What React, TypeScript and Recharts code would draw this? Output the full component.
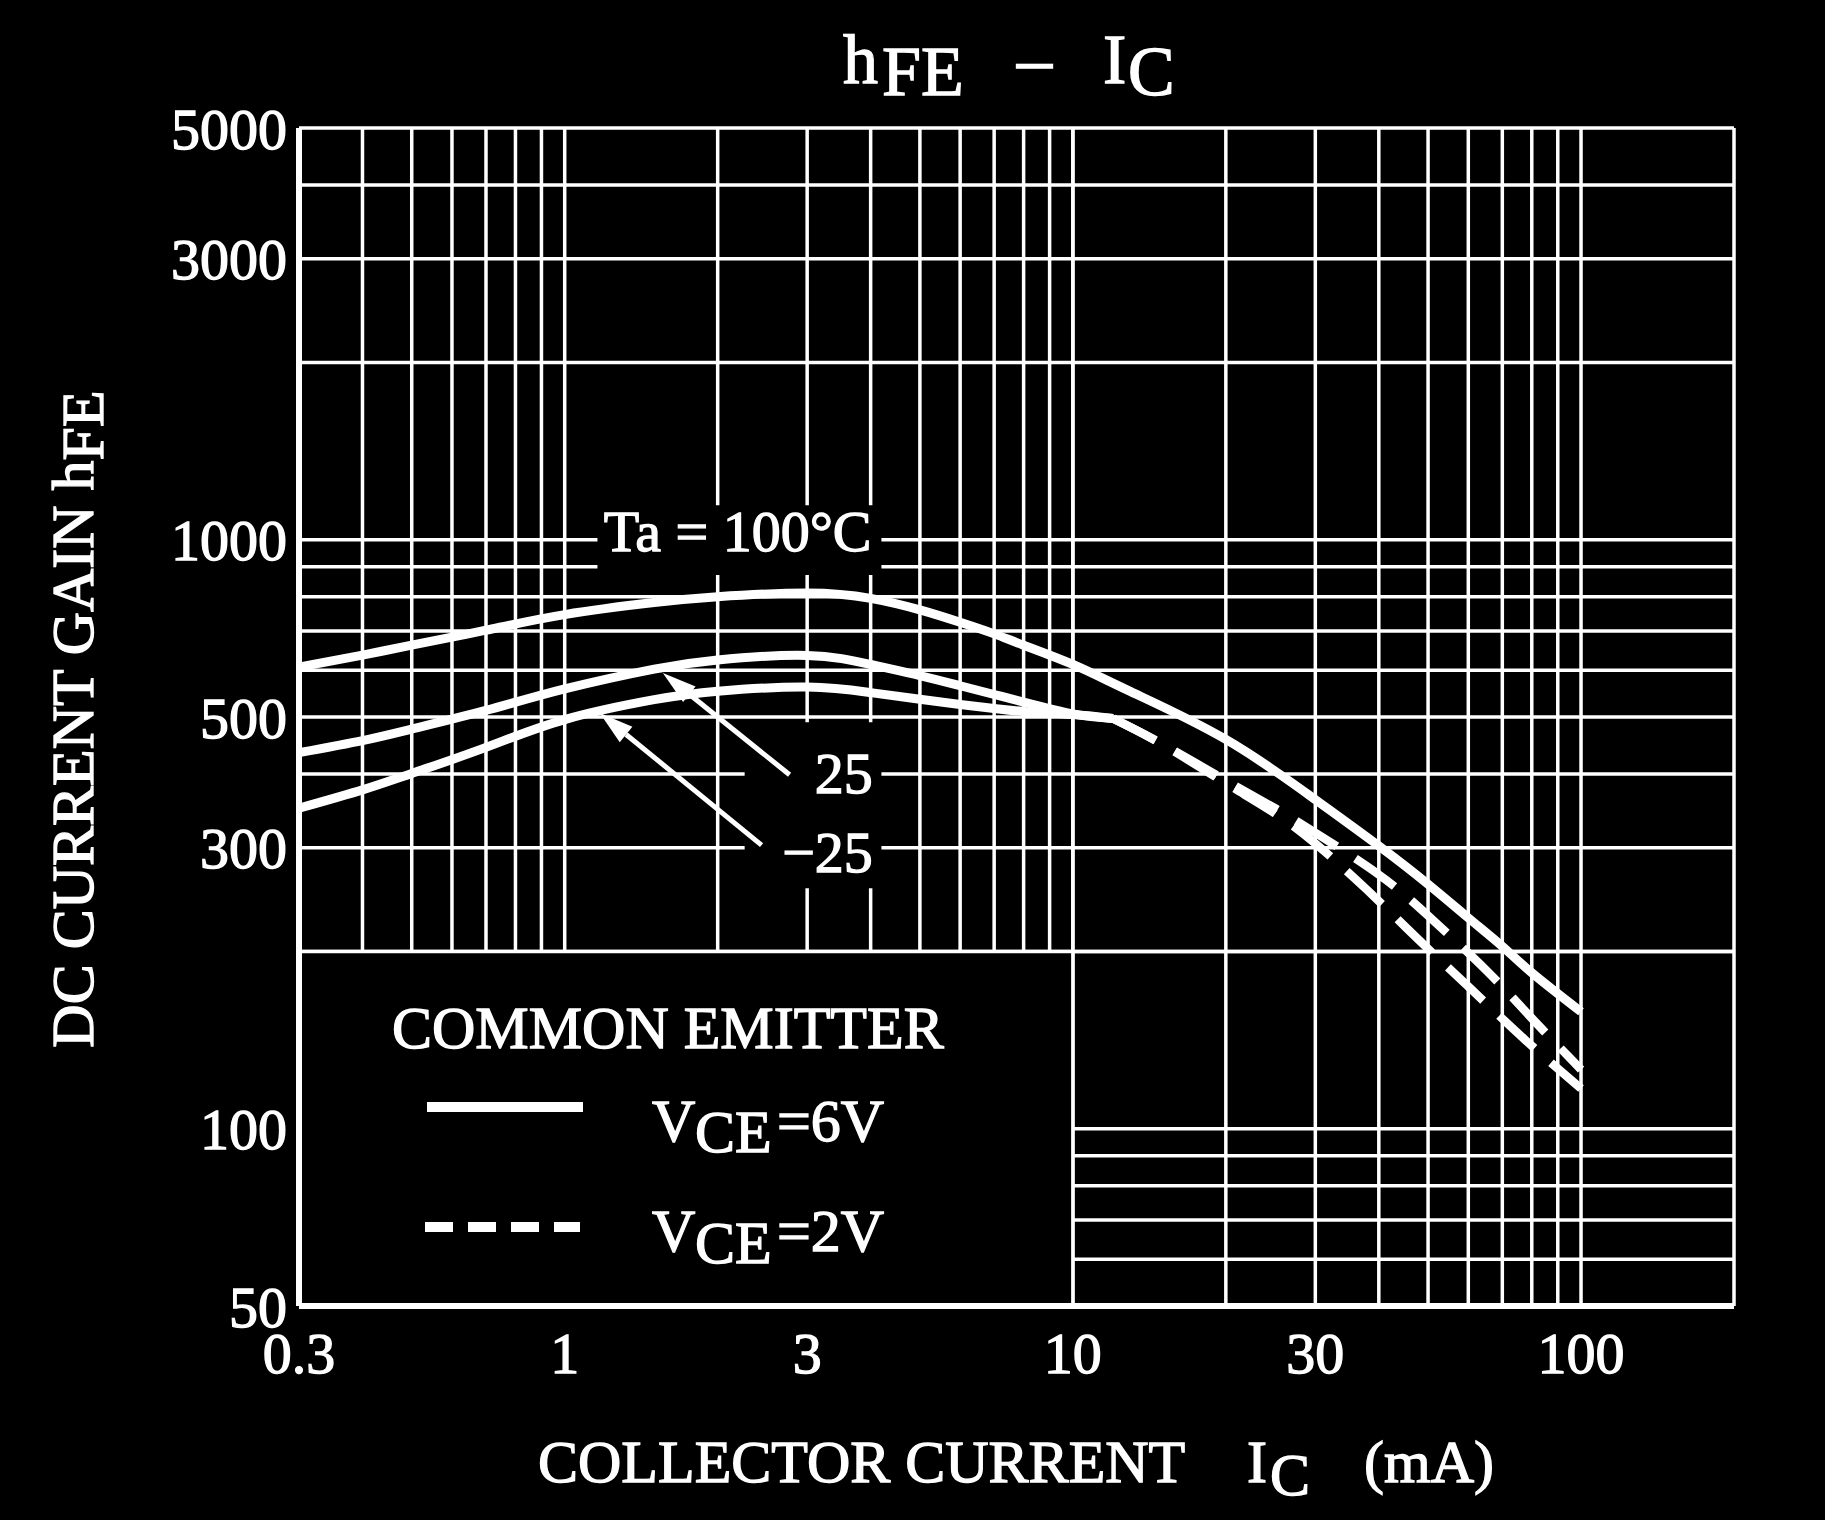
import React from 'react';
import {
  LineChart,
  Line,
  XAxis,
  YAxis,
  CartesianGrid,
  ReferenceArea,
  ReferenceLine,
  ReferenceDot,
} from 'recharts';

// ---------- axis ticks ----------
const X_GRID = [0.3, 0.4, 0.5, 0.6, 0.7, 0.8, 0.9, 1, 2, 3, 4, 5, 6, 7, 8, 9, 10, 20, 30, 40, 50, 60, 70, 80, 90, 100, 200];
const X_LABELS = [0.3, 1, 3, 10, 30, 100];
const Y_GRID = [50, 60, 70, 80, 90, 100, 200, 300, 400, 500, 600, 700, 800, 900, 1000, 2000, 3000, 4000, 5000];
const Y_LABELS = [50, 100, 300, 500, 1000, 3000, 5000];

// ---------- series (Ic in mA, hFE) ----------
// VCE = 6V (solid)
const IC_100C = [0.3, 0.4, 0.5, 0.7, 1, 1.5, 2, 3, 4, 5, 6, 7, 8, 10, 13, 20, 30, 40, 50, 60, 70, 80, 100];
const HFE_100C = [608, 637, 662, 702, 746, 782, 800, 812, 795, 760, 724, 692, 662, 614, 552, 458, 362, 302, 260, 228, 204, 184, 158];
const IC_25C = [0.3, 0.4, 0.5, 0.7, 1, 1.5, 2, 3, 4, 5, 6, 7, 8, 10, 12];
const HFE_25C = [435, 456, 477, 513, 558, 603, 625, 636, 614, 588, 565, 546, 530, 506, 497];
const IC_M25C = [0.3, 0.4, 0.5, 0.7, 1, 1.5, 2, 3, 4, 5, 6, 7, 8, 10, 12];
const HFE_M25C = [350, 376, 401, 444, 495, 535, 553, 562, 550, 536, 525, 517, 511, 505, 497];
// VCE = 2V (dashed)
const IC_2V_A = [12, 15, 20, 25, 30, 40, 50, 65, 80, 95, 100];
const HFE_2V_A = [497, 450, 390, 350, 318, 270, 230, 186, 154, 132, 126];
const IC_2V_B = [12, 15, 20, 25, 30, 38, 48, 61, 78, 100];
const HFE_2V_B = [497, 449, 386, 343, 305, 254, 209, 172, 141, 117];

// ---------- annotations (data coordinates) ----------
const TA_LABEL = { ic: 2.19, h: 1035, text: 'Ta = 100°C' };
const TA_BOX = { x1: 1.16, x2: 4.2, y1: 871, y2: 1144 };
const TEMP_LABELS = [
  { ic: 4.04, h: 371, text: '25' },
  { ic: 4.04, h: 273, text: '−25' },
];
const TEMP_BOX = { x1: 2.26, x2: 4.2, y1: 256, y2: 490 };
const ARROWS = [
  { from: [2.77, 399], to: [1.56, 594] },
  { from: [2.44, 303], to: [1.172, 508] },
];
const LEGEND_BOX = { x1: 0.3, x2: 10, y1: 50, y2: 200 };

const toPoints = (xs: number[], ys: number[]) => xs.map((ic, i) => ({ ic, h: ys[i] }));

const FONT = '"Liberation Serif", "Times New Roman", serif';
const WHITE = '#ffffff';
const TXT_STROKE = 1.3;

const Arrow = (props: any) => {
  const { x1, y1, x2, y2 } = props;
  const ang = Math.atan2(y2 - y1, x2 - x1);
  const L = 34;
  const hw = 10;
  const bx = x2 - L * Math.cos(ang);
  const by = y2 - L * Math.sin(ang);
  const px = -Math.sin(ang);
  const py = Math.cos(ang);
  return (
    <g>
      <line x1={x1} y1={y1} x2={bx} y2={by} stroke={WHITE} strokeWidth={5} />
      <polygon
        points={`${x2},${y2} ${bx + px * hw},${by + py * hw} ${bx - px * hw},${by - py * hw}`}
        fill={WHITE}
      />
    </g>
  );
};

const makeLabel = (text: string, anchor: string, dy: number) => (props: any) => (
  <text
    x={props.cx}
    y={props.cy}
    dy={dy}
    textAnchor={anchor}
    fill={WHITE}
    stroke={WHITE}
    strokeWidth={TXT_STROKE}
    fontSize={58}
    fontFamily={FONT}
  >
    {text}
  </text>
);

const xFmt = (v: number) => (X_LABELS.includes(v) ? String(v) : '');
const yFmt = (v: number) => (Y_LABELS.includes(v) ? String(v) : '');

export default function App() {
  const tickStyle = { fill: WHITE, stroke: WHITE, strokeWidth: TXT_STROKE, fontSize: 58, fontFamily: FONT };
  const txt = { fill: WHITE, stroke: WHITE, strokeWidth: TXT_STROKE, fontFamily: FONT };
  return (
    <div style={{ position: 'absolute', left: 0, top: 0, width: 1825, height: 1520, background: '#000', overflow: 'hidden' }}>
      <div style={{ position: 'absolute', left: 0, top: 0 }}>
        <LineChart width={1825} height={1520} margin={{ top: 128, right: 91, bottom: 0, left: 0 }}>
          <CartesianGrid stroke={WHITE} strokeWidth={3.5} />
          <ReferenceArea
            x1={LEGEND_BOX.x1}
            x2={LEGEND_BOX.x2}
            y1={LEGEND_BOX.y1}
            y2={LEGEND_BOX.y2}
            fill="#000"
            fillOpacity={1}
            stroke="none"
            ifOverflow="visible"
          />
          <ReferenceArea x1={TA_BOX.x1} x2={TA_BOX.x2} y1={TA_BOX.y1} y2={TA_BOX.y2} fill="#000" fillOpacity={1} stroke="none" ifOverflow="visible" />
          <ReferenceArea x1={TEMP_BOX.x1} x2={TEMP_BOX.x2} y1={TEMP_BOX.y1} y2={TEMP_BOX.y2} fill="#000" fillOpacity={1} stroke="none" ifOverflow="visible" />
          <ReferenceLine x={10} stroke={WHITE} strokeWidth={3.5} ifOverflow="visible" />
          <ReferenceLine y={200} stroke={WHITE} strokeWidth={3.5} ifOverflow="visible" />
          {ARROWS.map((a, i) => (
            <ReferenceLine
              key={'arr' + i}
              segment={[{ x: a.from[0], y: a.from[1] }, { x: a.to[0], y: a.to[1] }]}
              shape={Arrow}
              ifOverflow="visible"
            />
          ))}
          <Line data={toPoints(IC_100C, HFE_100C)} dataKey="h" type="natural" stroke={WHITE} strokeWidth={9} dot={false} isAnimationActive={false} />
          <Line data={toPoints(IC_25C, HFE_25C)} dataKey="h" type="natural" stroke={WHITE} strokeWidth={9} dot={false} isAnimationActive={false} />
          <Line data={toPoints(IC_M25C, HFE_M25C)} dataKey="h" type="natural" stroke={WHITE} strokeWidth={9} dot={false} isAnimationActive={false} />
          <Line data={toPoints(IC_2V_A, HFE_2V_A)} dataKey="h" type="natural" stroke={WHITE} strokeWidth={8.5} strokeDasharray="48 22" dot={false} isAnimationActive={false} />
          <Line data={toPoints(IC_2V_B, HFE_2V_B)} dataKey="h" type="natural" stroke={WHITE} strokeWidth={8.5} strokeDasharray="48 22" dot={false} isAnimationActive={false} />
          <ReferenceDot x={TA_LABEL.ic} y={TA_LABEL.h} ifOverflow="visible" shape={makeLabel(TA_LABEL.text, 'middle', 20)} />
          {TEMP_LABELS.map((l, i) => (
            <ReferenceDot key={'tl' + i} x={l.ic} y={l.h} ifOverflow="visible" shape={makeLabel(l.text, 'end', 0)} />
          ))}
          <XAxis
            dataKey="ic"
            type="number"
            scale="log"
            domain={[0.3, 200]}
            allowDataOverflow
            ticks={X_GRID}
            interval={0}
            tickFormatter={xFmt}
            tick={tickStyle}
            tickLine={false}
            tickSize={0}
            tickMargin={26}
            height={214}
            axisLine={{ stroke: WHITE, strokeWidth: 6 }}
          />
          <XAxis
            xAxisId="top"
            orientation="top"
            type="number"
            scale="log"
            domain={[0.3, 200]}
            allowDataOverflow
            tick={false}
            tickLine={false}
            height={0}
            axisLine={{ stroke: WHITE, strokeWidth: 6 }}
          />
          <YAxis
            type="number"
            scale="log"
            domain={[50, 5000]}
            allowDataOverflow
            ticks={Y_GRID}
            interval={0}
            tickFormatter={yFmt}
            tick={tickStyle}
            tickLine={false}
            tickSize={0}
            tickMargin={12}
            width={299}
            axisLine={{ stroke: WHITE, strokeWidth: 6 }}
          />
          <YAxis
            yAxisId="right"
            orientation="right"
            type="number"
            scale="log"
            domain={[50, 5000]}
            allowDataOverflow
            tick={false}
            tickLine={false}
            width={0}
            axisLine={{ stroke: WHITE, strokeWidth: 6 }}
          />
        </LineChart>
      </div>
      <svg width={1825} height={1520} style={{ position: 'absolute', left: 0, top: 0, pointerEvents: 'none' }}>
        {/* title */}
        <text {...txt} fontSize={70}>
          <tspan x={843} y={83}>h</tspan>
          <tspan x={882} y={95}>FE</tspan>
          <tspan x={1017} y={83}>–</tspan>
          <tspan x={1103} y={83}>I</tspan>
          <tspan x={1128} y={95}>C</tspan>
        </text>
        {/* y axis title */}
        <g transform="translate(93,719) rotate(-90)">
          <text x={0} y={0} textAnchor="middle" {...txt} fontSize={60}>
            DC CURRENT GAIN h<tspan dy={10}>FE</tspan>
          </text>
        </g>
        {/* x axis title */}
        <text {...txt} fontSize={60}>
          <tspan x={538} y={1482}>COLLECTOR CURRENT</tspan>
          <tspan x={1247} y={1482}>I</tspan>
          <tspan x={1270} y={1495}>C</tspan>
          <tspan x={1364} y={1482}>(mA)</tspan>
        </text>
        {/* legend */}
        <text x={392} y={1048} {...txt} fontSize={60}>COMMON EMITTER</text>
        <line x1={427} y1={1107} x2={583} y2={1107} stroke={WHITE} strokeWidth={10} />
        <text {...txt} fontSize={60}>
          <tspan x={652} y={1141}>V</tspan>
          <tspan x={695} y={1152}>CE</tspan>
          <tspan x={777} y={1141}>=6V</tspan>
        </text>
        <line x1={425} y1={1227} x2={580} y2={1227} stroke={WHITE} strokeWidth={10} strokeDasharray="28 15" />
        <text {...txt} fontSize={60}>
          <tspan x={652} y={1251}>V</tspan>
          <tspan x={695} y={1263}>CE</tspan>
          <tspan x={777} y={1251}>=2V</tspan>
        </text>
      </svg>
    </div>
  );
}
